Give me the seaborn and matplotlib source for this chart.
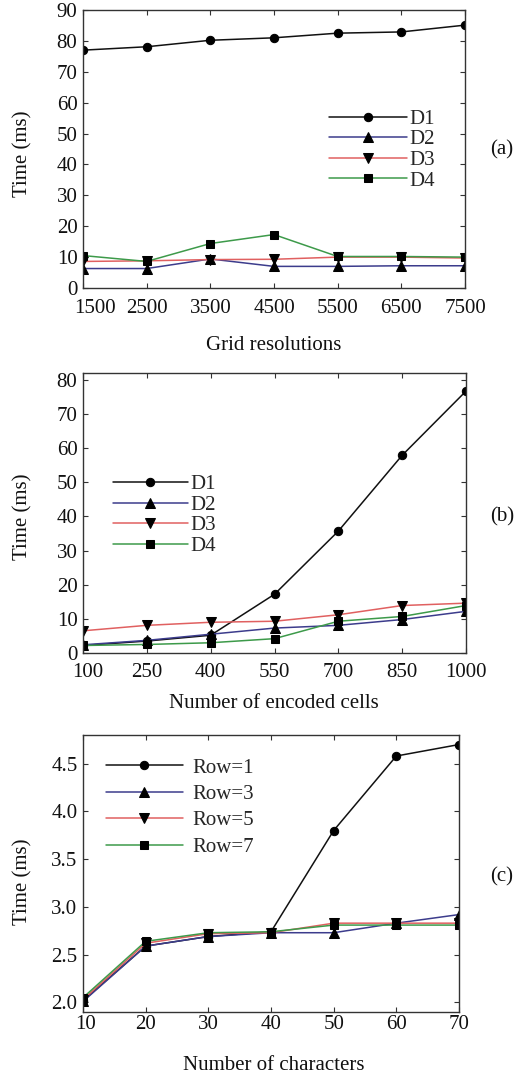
import matplotlib
matplotlib.use("Agg")
import matplotlib.pyplot as plt
import matplotlib.transforms as mtransforms
import seaborn as sns
import numpy as np
import pandas as pd

# ---------------- data ----------------
grid_res = [1500, 2500, 3500, 4500, 5500, 6500, 7500]
a_D1 = [77.0, 78.1, 80.2, 81.0, 82.5, 82.9, 85.1]
a_D2 = [6.3, 6.3, 9.4, 7.0, 7.0, 7.2, 7.2]
a_D3 = [8.6, 8.8, 9.2, 9.3, 10.0, 10.0, 9.7]
a_D4 = [10.5, 8.6, 14.4, 17.3, 10.2, 10.2, 10.0]

enc_cells = [100, 250, 400, 550, 700, 850, 1000]
b_D1 = [2.2, 3.5, 5.2, 17.2, 35.7, 57.9, 76.7]
b_D2 = [2.4, 3.7, 5.5, 7.3, 8.1, 9.8, 12.2]
b_D3 = [6.5, 8.1, 9.0, 9.3, 11.2, 13.9, 14.6]
b_D4 = [2.2, 2.5, 3.0, 4.2, 9.3, 10.7, 13.9]

n_chars = [10, 20, 30, 40, 50, 60, 70]
c_R1 = [2.02, 2.59, 2.69, 2.74, 3.80, 4.58, 4.70]
c_R3 = [2.01, 2.59, 2.69, 2.73, 2.73, 2.83, 2.92]
c_R5 = [2.03, 2.62, 2.72, 2.73, 2.83, 2.83, 2.83]
c_R7 = [2.05, 2.64, 2.73, 2.74, 2.81, 2.81, 2.81]

names_D = ["D1", "D2", "D3", "D4"]
names_R = ["Row=1", "Row=3", "Row=5", "Row=7"]
a_yticks = [0, 10, 20, 30, 40, 50, 60, 70, 80, 90]
b_yticks = [0, 10, 20, 30, 40, 50, 60, 70, 80]
c_yticks = [2.0, 2.5, 3.0, 3.5, 4.0, 4.5]

colors = ["#111111", "#3c3c8c", "#e06060", "#3d9a4a"]
markers = ["o", "^", "v", "s"]
msizes = [6.0, 7.0, 7.0, 5.2]

# ---------------- figure ----------------
sns.set_theme(style="white")
plt.rcParams["font.family"] = ["Liberation Serif", "DejaVu Serif"]

W, H = 529, 1077
fig = plt.figure(figsize=(W / 100, H / 100), dpi=100)
TFS = 15      # tick labels
LFS = 15      # axis labels / legend


def add_ax(l, r, t, b):
    return fig.add_axes([l / W, 1 - b / H, (r - l) / W, (b - t) / H])


def style_ax(ax, xpad):
    for s in ax.spines.values():
        s.set_color("#333333")
        s.set_linewidth(1.0)
        s.set_visible(True)
    ax.tick_params(direction="in", length=3.5, width=0.8, color="#333333",
                   top=True, right=True, bottom=True, left=True,
                   labelsize=TFS, labelcolor="#111111")
    ax.tick_params(axis="y", pad=4)
    ax.tick_params(axis="x", pad=xpad)
    ax.set_xlabel("")
    ax.set_ylabel("")


def draw(ax, x, series, names):
    for ys, nm, c, m, ms in zip(series, names, colors, markers, msizes):
        df = pd.DataFrame({"x": x, "y": ys})
        sns.lineplot(data=df, x="x", y="y", ax=ax, color=c, marker=m,
                     markersize=ms, markerfacecolor="black",
                     markeredgecolor="black", linewidth=1.1, label=nm,
                     legend=False)


def leg(ax, x0, y0, hl, htp, ls):
    ax.legend(loc="upper left", bbox_to_anchor=(x0, y0), frameon=False,
              fontsize=LFS, handlelength=hl, handletextpad=htp,
              labelspacing=ls, borderaxespad=0, borderpad=0)


# (a)
ax1 = add_ax(83, 465, 10, 288)
draw(ax1, grid_res, [a_D1, a_D2, a_D3, a_D4], names_D)
ax1.set_xlim(1500, 7500)
ax1.set_ylim(0, 90)
ax1.set_xticks(grid_res)
ax1.set_yticks(a_yticks)
style_ax(ax1, 8)
leg(ax1, 0.644, 0.643, 3.75, 0.1, 0.05)

# (b)
ax2 = add_ax(83, 466, 373, 653)
draw(ax2, enc_cells, [b_D1, b_D2, b_D3, b_D4], names_D)
ax2.set_xlim(100, 1000)
ax2.set_ylim(0, 82)
ax2.set_xticks(enc_cells)
ax2.set_yticks(b_yticks)
style_ax(ax2, 7)
leg(ax2, 0.078, 0.637, 3.6, 0.1, 0.05)

# (c)
ax3 = add_ax(83, 459, 735, 1012)
draw(ax3, n_chars, [c_R1, c_R3, c_R5, c_R7], names_R)
ax3.set_xlim(10, 70)
ax3.set_ylim(1.9, 4.8)
ax3.set_xticks(n_chars)
ax3.set_yticks(c_yticks)
ax3.set_yticklabels([f"{v:.1f}" for v in c_yticks])
style_ax(ax3, 2)
leg(ax3, 0.061, 0.917, 3.7, 0.45, 0.33)

# nudge the first x tick label of each panel right (as in the reference)
fig.canvas.draw()
for ax, dx in [(ax1, 12), (ax2, 5), (ax3, 3)]:
    lab = ax.get_xticklabels()[0]
    lab.set_transform(lab.get_transform() +
                      mtransforms.ScaledTranslation(dx / 100, 0,
                                                    fig.dpi_scale_trans))

# axis / panel labels
for y, txt in [(345, "Grid resolutions"), (703, "Number of encoded cells"),
               (1065, "Number of characters")]:
    fig.text(274 / W, 1 - y / H, txt, ha="center", va="center",
             fontsize=LFS, color="#111111")
for y in [154, 517, 882]:
    fig.text(23 / W, 1 - y / H, "Time (ms)", ha="center", va="center",
             rotation=90, fontsize=LFS, color="#111111")
for y, txt in [(150, "(a)"), (517, "(b)"), (877, "(c)")]:
    fig.text(502 / W, 1 - y / H, txt, ha="center", va="center",
             fontsize=LFS, color="#111111")

fig.savefig("out.png", dpi=100, facecolor="white")
